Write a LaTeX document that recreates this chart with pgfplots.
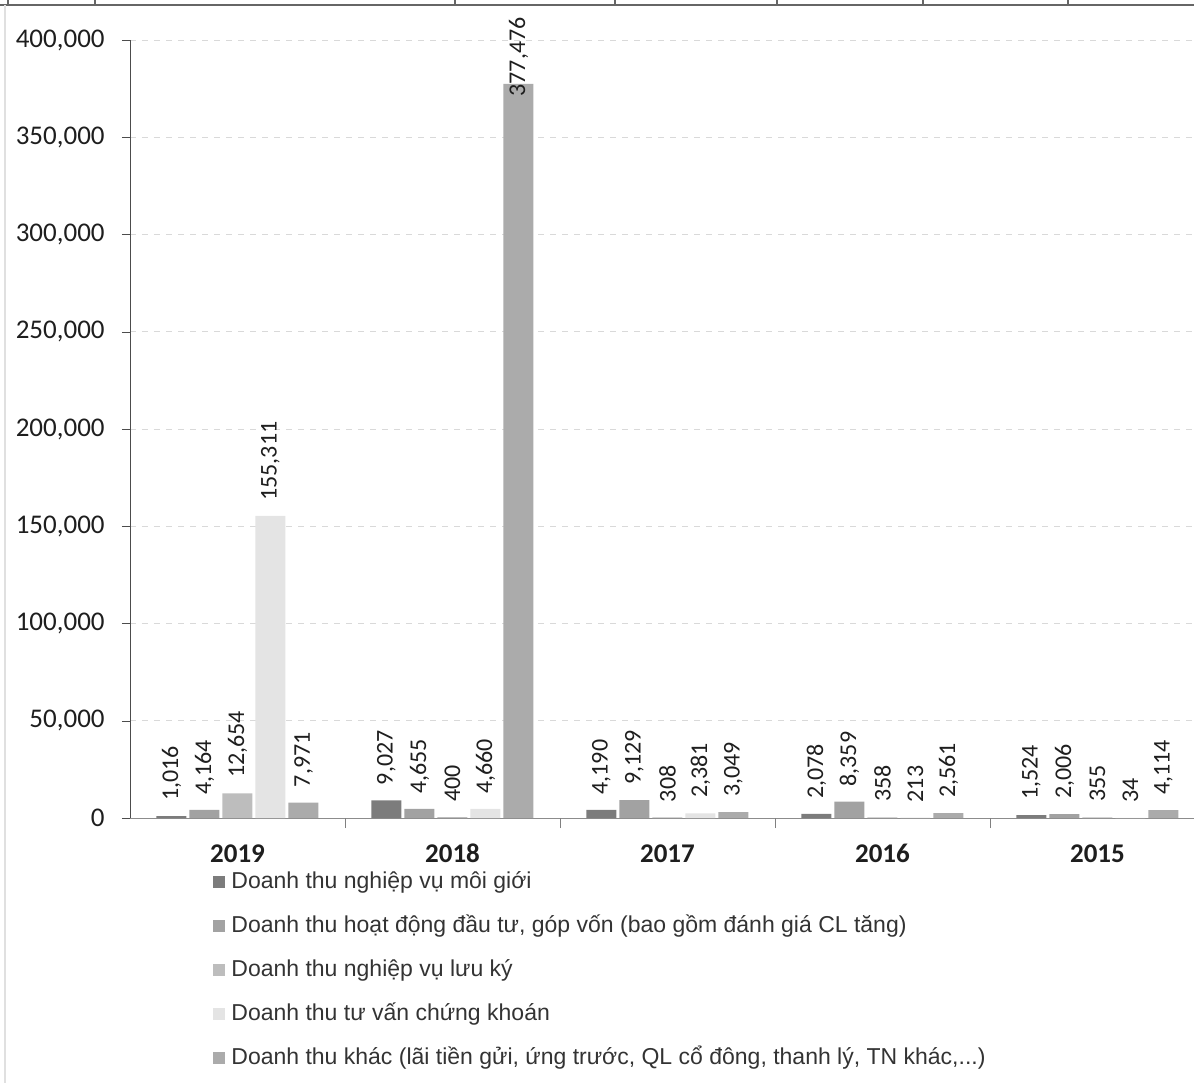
\documentclass[border=0pt]{standalone}
\usepackage{pgfplots}
\pgfplotsset{compat=1.18}
\usepackage{pgfplotstable}
\usepackage{fontspec}
\setmainfont{Carlito}
\newfontfamily\arialfont{Liberation Sans}
\definecolor{cA}{HTML}{7C7C7C}
\definecolor{cB}{HTML}{A2A2A2}
\definecolor{cC}{HTML}{BDBDBD}
\definecolor{cD}{HTML}{E4E4E4}
\definecolor{cE}{HTML}{ABABAB}
\definecolor{txt}{HTML}{1E1E1E}

\pgfplotstableread{
x y
0 1016
1 9027
2 4190
3 2078
4 1524
}\sone
\pgfplotstableread{
x y
0 4164
1 4655
2 9129
3 8359
4 2006
}\stwo
\pgfplotstableread{
x y
0 12654
1 400
2 308
3 358
4 355
}\sthree
\pgfplotstableread{
x y
0 155311
1 4660
2 2381
3 213
4 34
}\sfour
\pgfplotstableread{
x y off
0 7971 0
1 377476 -14
2 3049 0
3 2561 0
4 4114 0
}\sfive

\begin{document}
\begin{tikzpicture}[x=1pt,y=1pt]
\useasboundingbox (0,0) rectangle (597,541.5);
\begin{axis}[
  at={(65pt,132.5pt)}, anchor=south west,
  scale only axis, width=532pt, height=389pt,
  xmin=-0.5, xmax=4.449, ymin=0, ymax=400000,
  ybar=1.5pt, bar width=15pt,
  axis x line*=bottom, axis y line*=left,
  x axis line style={draw=black!45},
  y axis line style={draw=black!70},
  tick align=outside, major tick length=4pt,
  ytick={0,50000,...,400000},
  scaled y ticks=false,
  /pgf/number format/fixed,
  /pgf/number format/1000 sep={,},
  /pgf/number format/assume math mode=true,
  yticklabel style={font=\fontsize{13.5pt}{16pt}\selectfont, text=txt, inner sep=0pt, xshift=-8.5pt},
  ytick style={draw=black!70},
  ymajorgrids, grid style={draw=black!15, dashed, line width=0.4pt},
  xtick={0,1,2,3,4}, xticklabels={2019,2018,2017,2016,2015},
  xtick style={draw=none},
  xticklabel style={font=\bfseries\fontsize{13.5pt}{16pt}\selectfont, text=txt, inner sep=0pt, anchor=north, text height=9pt, text depth=0pt, yshift=-9pt},
  extra x ticks={0.5,1.5,2.5,3.5}, extra x tick labels={},
  extra x tick style={xtick style={draw=black!50}, major tick length=5pt, grid=none},
  nodes near coords={\pgfmathprintnumber[fixed,precision=0,1000 sep={,},assume math mode=true]{\pgfplotspointmeta}},
  nodes near coords align={anchor=west},
  every node near coord/.append style={rotate=90, anchor=west, inner sep=0pt, xshift=7.5pt, font=\fontsize{12pt}{14pt}\selectfont, text=txt},
  legend style={at={(0.078,-0.068)}, anchor=north west, draw=none, fill=none,
    font=\arialfont\fontsize{11.5pt}{13pt}\selectfont, text=black!80,
    inner sep=0pt, row sep=11pt, column sep=3pt,
    nodes={inner sep=0pt, text height=8.5pt, text depth=2.5pt}},
  legend cell align=left,
  legend image code/.code={\fill[#1] (0pt,-3pt) rectangle (6pt,3pt);},
]
\addplot[fill=cA, draw=none] table[x=x,y=y] {\sone};
\addlegendentry{Doanh thu nghiệp vụ môi giới}
\addplot[fill=cB, draw=none] table[x=x,y=y] {\stwo};
\addlegendentry{Doanh thu hoạt động đầu tư, góp vốn (bao gồm đánh giá CL tăng)}
\addplot[fill=cC, draw=none] table[x=x,y=y] {\sthree};
\addlegendentry{Doanh thu nghiệp vụ lưu ký}
\addplot[fill=cD, draw=none] table[x=x,y=y] {\sfour};
\addlegendentry{Doanh thu tư vấn chứng khoán}
\addplot[fill=cE, draw=none, visualization depends on={\thisrow{off} \as \off},
  every node near coord/.append style={xshift=\off pt}] table[x=x,y=y] {\sfive};
\addlegendentry{Doanh thu khác (lãi tiền gửi, ứng trước, QL cổ đông, thanh lý, TN khác,...)}
\end{axis}
\draw[black!60, line width=1pt] (0,539) -- (597,539);
\foreach \xx in {4,47.5,227.5,307.5,388.5,461.5,534} {\draw[black!60, line width=0.8pt] (\xx,539) -- (\xx,541.5);}
\draw[black!12, line width=0.6pt] (2.5,0) -- (2.5,539);
\end{tikzpicture}
\end{document}
